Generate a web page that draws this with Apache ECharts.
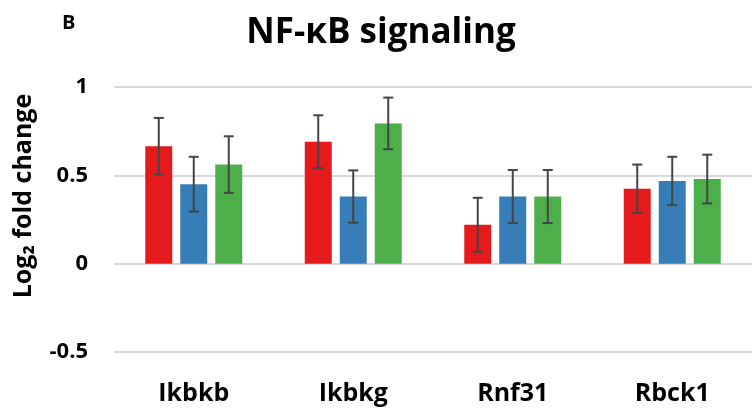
<!DOCTYPE html>
<html>
<head>
<meta charset="utf-8">
<script src="https://cdn.jsdelivr.net/npm/echarts@6/dist/echarts.min.js"></script>
<style>
  html, body { margin: 0; padding: 0; background: #fff; }
  #chart { width: 752px; height: 411px; }
</style>
</head>
<body>
<div id="chart"></div>
<script>
// Genes on the x axis
const genes = ['Ikbkb', 'Ikbkg', 'Rnf31', 'Rbck1'];
// Log2 fold change per condition
const redValues   = [0.665, 0.69, 0.22, 0.424];
const blueValues  = [0.45, 0.38, 0.38, 0.468];
const greenValues = [0.561, 0.794, 0.38, 0.479];
// Error (± half-length of each whisker)
const redErr   = [0.16, 0.15, 0.153, 0.137];
const blueErr  = [0.155, 0.148, 0.15, 0.137];
const greenErr = [0.16, 0.146, 0.15, 0.138];
// Y axis ticks
const yTicks = [-0.5, 0, 0.5, 1];

const FONT = '"Open Sans"';
const BAR_W = 27;
const BAR_GAP = 8;
const colors = ['#e41a1c', '#377eb8', '#4daf4a'];
const groups = [
  { values: redValues, errs: redErr },
  { values: blueValues, errs: blueErr },
  { values: greenValues, errs: greenErr }
];

function errorSeries(idx) {
  const g = groups[idx];
  const offset = (idx - 1) * (BAR_W + BAR_GAP);
  return {
    type: 'custom',
    z: 5,
    data: g.values.map((v, i) => [i, v - g.errs[i], v + g.errs[i]]),
    renderItem: function (params, api) {
      const lo = api.coord([api.value(0), api.value(1)]);
      const hi = api.coord([api.value(0), api.value(2)]);
      const x = lo[0] + offset;
      const cap = 5;
      const style = { stroke: '#454545', lineWidth: 2 };
      return {
        type: 'group',
        children: [
          { type: 'line', shape: { x1: x, y1: lo[1], x2: x, y2: hi[1] }, style },
          { type: 'line', shape: { x1: x - cap, y1: lo[1], x2: x + cap, y2: lo[1] }, style },
          { type: 'line', shape: { x1: x - cap, y1: hi[1], x2: x + cap, y2: hi[1] }, style }
        ]
      };
    }
  };
}

const chart = echarts.init(document.getElementById('chart'), null, { renderer: 'canvas' });
chart.setOption({
  animation: false,
  backgroundColor: '#fff',
  title: [
    {
      text: 'NF-κB signaling',
      left: 376, top: 11, textAlign: 'center',
      textStyle: { fontFamily: FONT, fontWeight: 'bold', fontSize: 35, color: '#000' }
    },
    {
      text: 'B',
      left: 57, top: 8,
      textStyle: { fontFamily: FONT, fontWeight: 'bold', fontSize: 20, color: '#000' }
    }
  ],
  // Vertical axis title, set a little above the plot's middle
  graphic: [
    {
      type: 'text',
      x: 24, y: 196,
      rotation: Math.PI / 2,
      style: {
        text: 'Log₂ fold change',
        align: 'center', verticalAlign: 'middle',
        font: 'bold 25px "Open Sans"',
        fill: '#000'
      }
    }
  ],
  grid: { left: 114, top: 87, width: 640, bottom: 59, containLabel: false },
  xAxis: {
    type: 'category',
    data: genes,
    position: 'bottom',
    axisLine: { show: false },
    axisTick: { show: false },
    axisLabel: {
      margin: 29,
      fontFamily: FONT, fontWeight: 'bold', fontSize: 25, color: '#000'
    }
  },
  yAxis: {
    type: 'value',
    min: yTicks[0], max: yTicks[yTicks.length - 1], interval: 0.5,
    axisLine: { show: false },
    axisTick: { show: false },
    splitLine: { lineStyle: { color: '#d9d9d9', width: 2 } },
    axisLabel: {
      margin: 26,
      fontFamily: FONT, fontWeight: 'bold', fontSize: 22, color: '#000',
      formatter: v => String(v)
    }
  },
  series: [
    { type: 'bar', data: redValues, barWidth: BAR_W, barGap: (BAR_GAP / BAR_W * 100) + '%', itemStyle: { color: colors[0] } },
    { type: 'bar', data: blueValues, barWidth: BAR_W, barGap: (BAR_GAP / BAR_W * 100) + '%', itemStyle: { color: colors[1] } },
    { type: 'bar', data: greenValues, barWidth: BAR_W, barGap: (BAR_GAP / BAR_W * 100) + '%', itemStyle: { color: colors[2] } },
    errorSeries(0), errorSeries(1), errorSeries(2)
  ]
});
</script>
</body>
</html>
